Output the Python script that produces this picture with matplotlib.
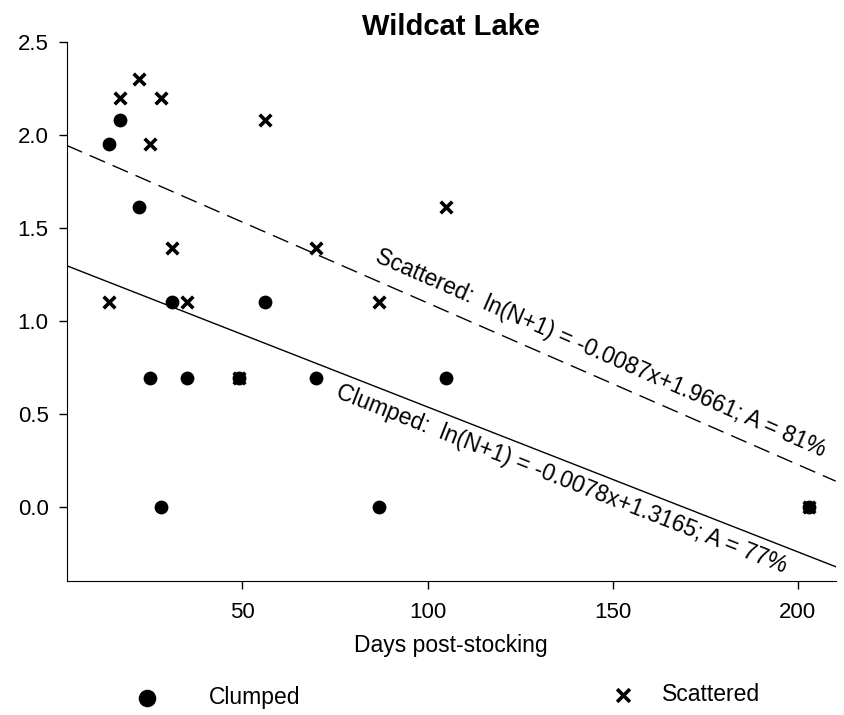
import numpy as np
import matplotlib
matplotlib.use("Agg")
import matplotlib.pyplot as plt

plt.rcParams['font.family'] = ['Liberation Sans', 'DejaVu Sans']

# data: days post-stocking and ln(N+1)
days = [14, 17, 22, 25, 28, 31, 35, 49, 56, 70, 87, 105, 203]
clumped = [1.95, 2.08, 1.61, 0.69, 0.0, 1.10, 0.69, 0.69, 1.10, 0.69, 0.0, 0.69, 0.0]
scattered = [1.10, 2.20, 2.30, 1.95, 2.20, 1.39, 1.10, 0.69, 2.08, 1.39, 1.10, 1.61, 0.0]

# fitted lines (slope, intercept) as printed on the chart
clumped_fit = (-0.0078, 1.3165)
scattered_fit = (-0.0087, 1.9661)

xlim = (2.6, 210.2)
ylim = (-0.4, 2.5)

fig = plt.figure(figsize=(8.45, 7.15), dpi=100)
ax = fig.add_axes([0.079, 0.1874, 0.910, 0.7539])

pts_c = ax.scatter(days, clumped, marker='o', s=80, color='black', zorder=3, label='Clumped')
pts_s = ax.scatter(days, scattered, marker='x', s=70, color='black', linewidths=2.6, zorder=3,
                   label='Scattered')

xs = np.array(xlim)
ax.plot(xs, clumped_fit[0] * xs + clumped_fit[1], color='black', lw=1.0)
ax.plot(xs, scattered_fit[0] * xs + scattered_fit[1], color='black', lw=1.0,
        dashes=(12, 6))

ax.set_xlim(*xlim)
ax.set_ylim(*ylim)
ax.set_xticks([50, 100, 150, 200])
ax.set_yticks([0.0, 0.5, 1.0, 1.5, 2.0, 2.5])
ax.set_yticklabels(['0.0', '0.5', '1.0', '1.5', '2.0', '2.5'])
ax.spines['top'].set_visible(False)
ax.spines['right'].set_visible(False)
ax.tick_params(direction='out', length=6, width=1, labelsize=16)
ax.tick_params(axis='x', pad=9)
ax.tick_params(axis='y', pad=7)
ax.set_xlabel('Days post-stocking', fontsize=16.5, labelpad=8)
ax.set_title('Wildcat Lake', fontsize=21, fontweight='bold', pad=5)

# rotated equation labels along the fitted lines
def line_angle(fit, x0):
    p = np.array([[x0, fit[0] * x0 + fit[1]], [x0 + 10, fit[0] * (x0 + 10) + fit[1]]])
    d = ax.transData.transform(p)
    return np.degrees(np.arctan2(d[1, 1] - d[0, 1], d[1, 0] - d[0, 0]))

fig.canvas.draw()
ax.text(146.6, 0.825, 'Scattered:  ln(N+1) = -0.0087x+1.9661; A = 81%',
        fontsize=16.5, ha='center', va='center', rotation=line_angle(scattered_fit, 146),
        rotation_mode='anchor')
ax.text(136.2, 0.15, 'Clumped:  ln(N+1) = -0.0078x+1.3165; A = 77%',
        fontsize=16.5, ha='center', va='center', rotation=line_angle(clumped_fit, 136),
        rotation_mode='anchor')

# two separate legend entries below the axis label
common = dict(loc='center left', frameon=False, fontsize=16.5, borderpad=0,
              borderaxespad=0, handlelength=1, scatterpoints=1)
fig.legend(handles=[pts_c], bbox_to_anchor=(135.5 / 845, 0.024),
           handletextpad=2.2, markerscale=1.3, **common)
fig.legend(handles=[pts_s], bbox_to_anchor=(611.8 / 845, 0.028),
           handletextpad=1.2, markerscale=1.1, **common)

fig.savefig('out.png', dpi=100)
